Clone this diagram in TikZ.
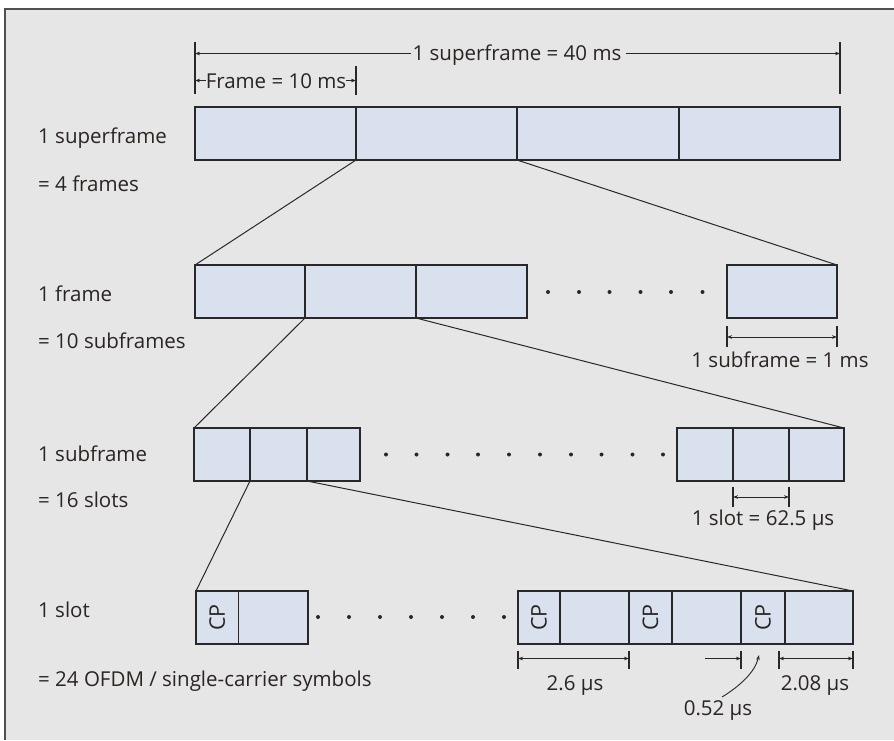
\documentclass[tikz,border=0pt]{standalone}
\usepackage{fontspec}
\setmainfont{Open Sans}
\usetikzlibrary{arrows.meta}
\definecolor{bgc}{RGB}{230,230,230}
\definecolor{boxc}{RGB}{218,225,238}
\definecolor{linec}{RGB}{40,40,40}
\definecolor{txtc}{RGB}{42,36,34}
\definecolor{framec}{RGB}{80,80,80}
\begin{document}
\begin{tikzpicture}[x=1pt,y=-1pt,
  cell/.style={draw=linec, fill=boxc, line width=1.4pt, inner sep=0pt, outer sep=0pt, anchor=north west, minimum height=53},
  lbl/.style={font=\fontsize{20.5}{24}\selectfont, text=txtc, inner sep=0pt, anchor=base west},
  dimtext/.style={font=\fontsize{20.5}{24}\selectfont, text=txtc, inner sep=0pt, anchor=base},
  cptext/.style={font=\fontsize{21.5}{24}\selectfont, text=txtc, inner sep=0pt, rotate=90},
  dimline/.style={draw=linec, line width=0.9pt, -{Stealth[length=5pt,width=3.6pt]}},
  tickline/.style={draw=linec, line width=1.2pt},
  zoomline/.style={draw=linec, line width=1pt},
  dotc/.style={fill=linec, circle, inner sep=0pt, minimum size=4}]
\useasboundingbox (0,0) rectangle (894,740);
\fill[white] (0,0) rectangle (894,740);
\fill[bgc] (5,9) rectangle (894,740);
\draw[framec, line width=1.6pt] (5,740) -- (5,9) -- (894,9);

% ---- left labels
\node[lbl] (l1a) at (38,143) {1 superframe};
\node[lbl] (l1b) at (38,191) {= 4 frames};
\node[lbl] (l2a) at (38,301) {1 frame};
\node[lbl] (l2b) at (38,348) {= 10 subframes};
\node[lbl] (l3a) at (38,461) {1 subframe};
\node[lbl] (l3b) at (38,507) {= 16 slots};
\node[lbl] (l4a) at (38,617.5) {1 slot};
\node[lbl] (l4b) at (38,686) {= 24 OFDM / single-carrier symbols};

% ---- superframe row
\node[cell, minimum width=161] (a1) at (195,107) {};
\node[cell, minimum width=161] (a2) at (356,107) {};
\node[cell, minimum width=162] (a3) at (517,107) {};
\node[cell, minimum width=161] (a4) at (679,107) {};

% ---- frame row
\node[cell, minimum width=110] (b1) at (195,265) {};
\node[cell, minimum width=111] (b2) at (305,265) {};
\node[cell, minimum width=111] (b3) at (416,265) {};
\node[cell, minimum width=110] (b4) at (727,265) {};
\foreach \x [count=\i] in {548,579,609.5,640.5,671,702.5}
  \node[dotc] (bd\i) at (\x,292) {};

% ---- subframe row
\node[cell, minimum width=56] (c1) at (194,428) {};
\node[cell, minimum width=57] (c2) at (250,428) {};
\node[cell, minimum width=53] (c3) at (307,428) {};
\node[cell, minimum width=56] (c4) at (677,428) {};
\node[cell, minimum width=56] (c5) at (733,428) {};
\node[cell, minimum width=55] (c6) at (789,428) {};
\foreach \x [count=\i] in {386,416.5,447.5,478,509,540,571,601.5,632.5,663}
  \node[dotc] (cd\i) at (\x,454.5) {};

% ---- slot row
\node[cell, minimum width=42.5] (s1) at (196,591) {};
\node[cell, minimum width=69.5] (s2) at (238.5,591) {};
\node[cell, minimum width=42] (s3) at (518,591) {};
\node[cell, minimum width=69] (s4) at (560,591) {};
\node[cell, minimum width=43] (s5) at (629,591) {};
\node[cell, minimum width=69] (s6) at (672,591) {};
\node[cell, minimum width=44] (s7) at (741,591) {};
\node[cell, minimum width=68] (s8) at (785,591) {};
\foreach \x [count=\i] in {318,349,380,411,442,473,504}
  \node[dotc] (sd\i) at (\x,617) {};
\node[cptext] (cp1) at (s1.center) {CP};
\node[cptext] (cp2) at (s3.center) {CP};
\node[cptext] (cp3) at (s5.center) {CP};
\node[cptext] (cp4) at (s7.center) {CP};

% ---- zoom connectors
\draw[zoomline] (a1.south east) -- (b1.north west);
\draw[zoomline] (a2.south east) -- (b4.north east);
\draw[zoomline] (b1.south east) -- (c1.north west);
\draw[zoomline] (b2.south east) -- (c6.north east);
\draw[zoomline] (c1.south east) -- (s1.north west);
\draw[zoomline] (c2.south east) -- (s8.north east);

% ---- top dimensions
\coordinate (tL1) at (195,42); \coordinate (tL2) at (195,94);
\coordinate (tR1) at (840,42); \coordinate (tR2) at (840,94);
\coordinate (tF1) at (356,66); \coordinate (tF2) at (356,95);
\draw[tickline] (tL1) -- (tL2);
\draw[tickline] (tR1) -- (tR2);
\draw[tickline] (tF1) -- (tF2);
\coordinate (dsL) at (195,53.5); \coordinate (dsR) at (840,53.5);
\node[dimtext] (dsup) at (517,60) {1 superframe = 40 ms};
\draw[dimline] ([xshift=-1.5pt]dsup.west |- dsL) -- (dsL);
\draw[dimline] ([xshift=4pt]dsup.east |- dsR) -- (dsR);
\coordinate (dfL) at (195,80.5); \coordinate (dfR) at (356,80.5);
\node[dimtext] (dfr) at (276,88) {Frame = 10 ms};
\draw[dimline] (dfr.west |- dfL) -- (dfL);
\draw[dimline] (dfr.east |- dfR) -- (dfR);

% ---- subframe dimension
\coordinate (u1a) at (727,326); \coordinate (u1b) at (727,347);
\coordinate (u2a) at (837,326); \coordinate (u2b) at (837,347);
\draw[tickline] (u1a) -- (u1b);
\draw[tickline] (u2a) -- (u2b);
\draw[dimline, {Stealth[length=5pt,width=3.6pt]}-{Stealth[length=5pt,width=3.6pt]}] (727,337) coordinate (u1) -- (837,337) coordinate (u2);
\node[dimtext] (dsub) at (780,367) {1 subframe = 1 ms};

% ---- slot dimension
\draw[tickline] (733,487) coordinate (v1a) -- (733,507) coordinate (v1b);
\draw[tickline] (789,487) coordinate (v2a) -- (789,507) coordinate (v2b);
\draw[dimline, {Stealth[length=5pt,width=3.6pt]}-{Stealth[length=5pt,width=3.6pt]}] (733,497) coordinate (v1) -- (789,497) coordinate (v2);
\node[dimtext] (dslot) at (763,525) {1 slot = 62.5 μs};

% ---- symbol dimensions
\draw[tickline] (518,651) coordinate (w1a) -- (518,669) coordinate (w1b);
\draw[tickline] (629,651) coordinate (w2a) -- (629,669) coordinate (w2b);
\draw[dimline, {Stealth[length=5pt,width=3.6pt]}-{Stealth[length=5pt,width=3.6pt]}] (518,658.5) coordinate (w1) -- (629,658.5) coordinate (w2);
\node[dimtext] (d26) at (575,690) {2.6 μs};

\draw[tickline] (741,651) coordinate (x1a) -- (741,669) coordinate (x1b);
\coordinate (x0) at (705,658.5); \coordinate (x1) at (741,658.5);
\draw[dimline] (x0) -- (x1);
\coordinate (cs) at (722,697); \coordinate (ce) at (759,655);
\draw[dimline] (cs) .. controls (740,686) and (755,672) .. (ce);
\node[dimtext] (d052) at (718,715) {0.52 μs};

\draw[tickline] (779,651) coordinate (y1a) -- (779,669) coordinate (y1b);
\draw[tickline] (853,651) coordinate (y2a) -- (853,669) coordinate (y2b);
\draw[dimline, {Stealth[length=5pt,width=3.6pt]}-{Stealth[length=5pt,width=3.6pt]}] (779,658.5) coordinate (y1) -- (853,658.5) coordinate (y2);
\node[dimtext] (d208) at (815,690) {2.08 μs};
\end{tikzpicture}
\end{document}
